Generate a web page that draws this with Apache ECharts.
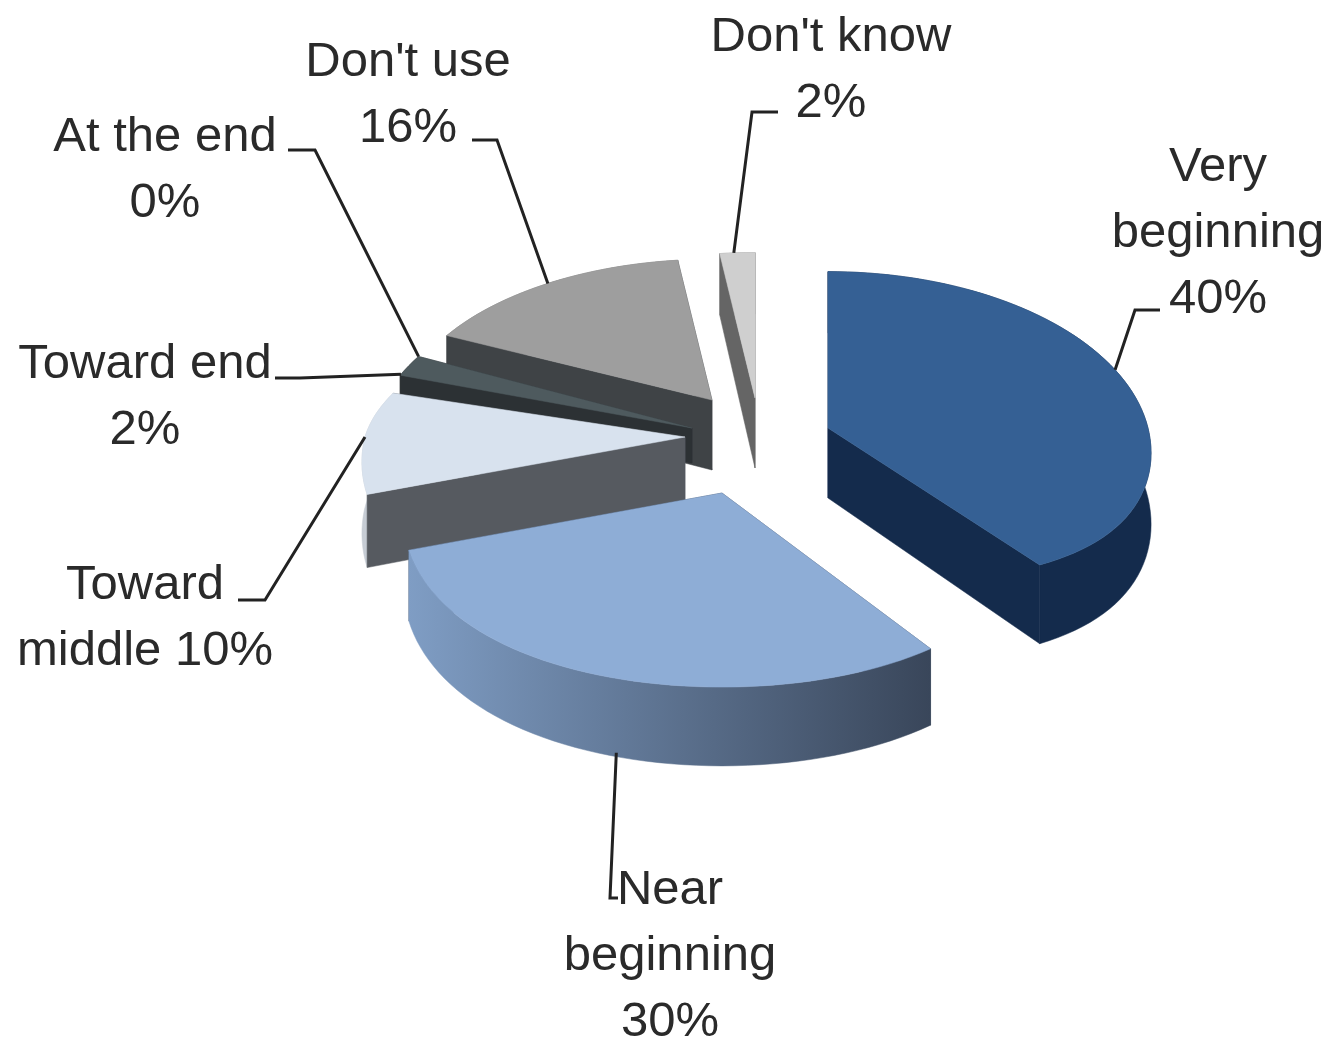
<!DOCTYPE html>
<html><head><meta charset="utf-8">
<style>html,body{margin:0;padding:0;background:#fff}#c{width:1331px;height:1042px;filter:blur(0.7px)}</style>
<script src="https://cdn.jsdelivr.net/npm/echarts@6/dist/echarts.min.js"></script>
</head><body><div id="c"></div>
<script>
// Data, in pie order (clockwise from 12 o'clock)
const categories = ['Very\nbeginning','Near\nbeginning','Toward\nmiddle','Toward end','At the end',"Don't use","Don't know"];
const values = [40,30,10,2,0,16,2];
const valueSeparators = ['\n','\n',' ','\n','\n','\n','\n'];

// Projection of the tilted pie
const RX = 320, RY = 178, PERSP = 0.138, DEPTH = 70;
// Exploded apex and per-slice projection tweaks
const apexes = [[828,428],[722,493],[685,437],[692,428],[692,428],[712,400],[755,398]];
const frontCurve = [0.237,0.06,0,0,0,0,0];
const backScale = [1,1,0.83,1,1,0.9,0.93];
const xScale = [1,0.985,1,1,1,0.97,1];
const topColors = ['#356094','#8eadd6','#d8e2ee','#4e5a5e','#4e5a5e','#9e9e9e','#cfcfcf'];
const radialColors = ['#142b4c','#3c4a5c','#565a60','#2c3134','#2c3134','#3f4346','#656565'];
const outerColors = [['#142b4c','#142b4c'],['#7f9dc4','#39465a'],['#c6ccd4','#c6ccd4'],['#444','#444'],['#444','#444'],['#777','#777'],['#999','#999']];
const depthScale = [1,0.97,1,0.5,0.5,1,1];
// Label layout: text centre, first line y, leader path, anchor on the slice
const labelLayout = [
  {x:1218,y:167,path:[[1160,310],[1135,310]],t:0.486,d:0},
  {x:670,y:890,path:[[618,898],[610,898]],t:0.49,d:0.95},
  {x:145,y:585,path:[[238,600],[265,600]],t:0.5,d:0},
  {x:145,y:364,path:[[275,378],[300,378]],t:0.05,d:0},
  {x:165,y:137,path:[[288,150],[315,150]],t:1,d:0},
  {x:408,y:62,path:[[472,140],[497,140]],t:0.5,d:0},
  {x:831,y:37,path:[[778,112],[752,112]],t:0.4,d:0}
];
const paintOrder = [6,5,4,3,2,0,1];
const total = values.reduce((a,b)=>a+b,0);

function project(i, deg, dz){
  const r = deg*Math.PI/180, c = Math.cos(r), s = 1/(1+PERSP*c);
  const a = apexes[i];
  const yk = c<0 ? 1-frontCurve[i]*c*c : backScale[i];
  return [a[0]+RX*Math.sin(r)*s*xScale[i], a[1]-RY*c*s*yk+(dz||0)*s];
}
function arc(i, from, to, dz){
  const n = Math.max(2, Math.ceil(Math.abs(to-from)/2)), pts = [];
  for(let k=0;k<=n;k++) pts.push(project(i, from+(to-from)*k/n, dz));
  return pts;
}
function poly(points, fill, z2){
  return {type:'polygon', shape:{points}, z2, silent:true,
          style:{fill, stroke:fill, lineWidth:0.5}};
}
function shift(p,dz){return [p[0],p[1]+dz];}

function renderItem(params, api){
  const i = params.dataIndex, v = api.value(0);
  let start = 0;
  for(let k=0;k<i;k++) start += values[k];
  const a0 = start/total*360, a1 = (start+v)/total*360;
  const base = paintOrder.indexOf(i)*10 + 1;
  const A = apexes[i], D = DEPTH*depthScale[i];
  const kids = [];
  if(v > 0){
    const P0 = project(i,a0), P1 = project(i,a1), M = project(i,(a0+a1)/2);
    const radial = (P, deg) => {
      const P2 = project(i,deg,D);
      const visible = Math.abs(P[0]-A[0])>2 &&
        M[1] < A[1]+(P[1]-A[1])*(M[0]-A[0])/(P[0]-A[0]);
      return {visible, el:(z)=>poly([A,P,P2,shift(A,D)], radialColors[i], z)};
    };
    const r0 = radial(P0,a0), r1 = radial(P1,a1);
    [r0,r1].forEach(r=>{ if(!r.visible) kids.push(r.el(base)); });
    const top = arc(i,a0,a1,0), bot = arc(i,a0,a1,D).reverse();
    kids.push(poly(top.concat(bot),
      new echarts.graphic.LinearGradient(0,0,1,0,[
        {offset:0,color:outerColors[i][0]},{offset:1,color:outerColors[i][1]}]), base+1));
    [r0,r1].forEach(r=>{ if(r.visible) kids.push(r.el(base+2)); });
    kids.push(poly([A].concat(top), topColors[i], base+3));
  }
  // Leader line and label
  const L = labelLayout[i];
  const end = project(i, a0+(a1-a0)*L.t, L.d*D);
  kids.push({type:'polyline', z2:200, silent:true,
    shape:{points:L.path.concat([end])},
    style:{fill:null, stroke:'#222', lineWidth:3}});
  kids.push({type:'text', z2:201, silent:true, x:L.x, y:L.y-33,
    style:{text:categories[i]+valueSeparators[i]+v+'%',
      fontFamily:'Liberation Sans, Arial, sans-serif', fontSize:49, lineHeight:66,
      fill:'#2a2a2a', align:'center', verticalAlign:'top'}});
  return {type:'group', children:kids};
}

const chart = echarts.init(document.getElementById('c'), null, {renderer:'canvas'});
chart.setOption({
  animation:false,
  backgroundColor:'#fff',
  series:[{
    type:'custom', coordinateSystem:'none', renderItem, clip:false,
    data: values.map((v,i)=>({name:categories[i].replace('\n',' '), value:[v]}))
  }]
});
</script></body></html>
